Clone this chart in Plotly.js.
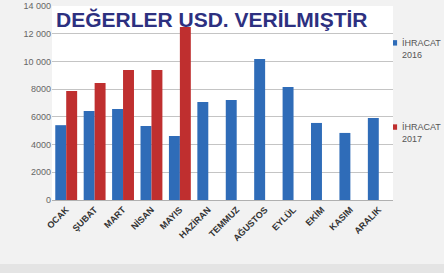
<!DOCTYPE html>
<html>
<head>
<meta charset="utf-8">
<script src="https://cdn.plot.ly/plotly-3.0.1.min.js"></script>
<style>html,body{margin:0;padding:0;background:#f2f2f2;}#chart{width:444px;height:273px;}</style>
</head>
<body>
<div id="chart"></div>
<script>
const months = ["OCAK","ŞUBAT","MART","NİSAN","MAYIS","HAZİRAN","TEMMUZ","AĞUSTOS","EYLÜL","EKİM","KASIM","ARALIK"];
const series2016 = [5400, 6430, 6570, 5340, 4620, 7080, 7220, 10180, 8160, 5560, 4840, 5920];
const series2017 = [7870, 8450, 9390, 9390, 12490, null, null, null, null, null, null, null];
const seriesNames = ["İHRACAT", "İHRACAT"];
const seriesYears = ["2016", "2017"];
const yTicks = [0, 2000, 4000, 6000, 8000, 10000, 12000, 14000];
const titleText = "DEĞERLER USD. VERİLMIŞTİR";
const colors = ['#2f6cb8', '#bf2f2f'];

const yTickText = yTicks.map(v => v >= 10000 ? String(v).replace(/(\d)(?=(\d{3})+$)/g, '$1 ') : String(v));

const traces = [
  {type:'bar', x: months, y: series2016, name: seriesNames[0]+' '+seriesYears[0], marker:{color:colors[0]}, showlegend:false},
  {type:'bar', x: months, y: series2017, name: seriesNames[1]+' '+seriesYears[1], marker:{color:colors[1]}, showlegend:false}
];
const legendY = [0.81, 0.376];
const shapes = [
  {type:'rect', xref:'paper', yref:'paper', x0:-0.3, x1:1.3, y0:-0.5, y1:-0.33, fillcolor:'#e4e4e4', line:{width:0}, layer:'below'}
];
const annotations = [{xref:'paper', yref:'paper', x:0.005, y:1.0, xanchor:'left', yanchor:'top', showarrow:false,
    text:'<b>'+titleText+'</b>', font:{size:21, color:'#2d3080', family:'Liberation Sans, Arial, sans-serif'}}];
for (let i = 0; i < 2; i++) {
  shapes.push({type:'rect', xref:'paper', yref:'paper', x0:1.0, x1:1.012, y0:legendY[i]-0.014, y1:legendY[i]+0.014,
    fillcolor:colors[i], line:{width:0}});
  annotations.push({xref:'paper', yref:'paper', x:1.02, y:legendY[i]+0.035, xanchor:'left', yanchor:'top', showarrow:false,
    align:'left', text:seriesNames[i]+'<br>'+seriesYears[i], font:{size:9, color:'#555555'}});
}
const layout = {
  width:444, height:273,
  margin:{l:52, r:51, t:6, b:73},
  paper_bgcolor:'#f2f2f2', plot_bgcolor:'#ffffff',
  barmode:'group', bargap:0.23, bargroupgap:0,
  font:{family:'Liberation Sans, Arial, sans-serif'},
  xaxis:{tickangle:-45, tickfont:{size:9, color:'#333333', family:'Liberation Sans, Arial, sans-serif', weight:'bold'},
         showline:true, linecolor:'#b0b0b0', ticks:'', showgrid:false, fixedrange:true},
  yaxis:{range:[0,14000], tickvals:yTicks, ticktext:yTickText, tickfont:{size:9, color:'#666666'}, gridcolor:'#c4c4c4',
         gridwidth:1, zeroline:false, showline:false, ticks:'', fixedrange:true},
  shapes: shapes,
  annotations: annotations
};
Plotly.newPlot('chart', traces, layout, {displayModeBar:false, staticPlot:true});
</script>
</body>
</html>
